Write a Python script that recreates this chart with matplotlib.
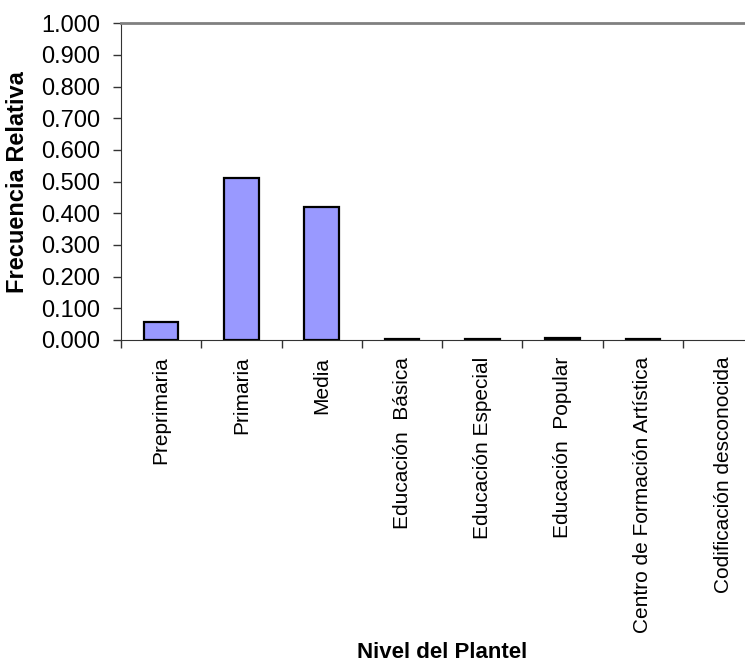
import numpy as np
import matplotlib.pyplot as plt

plt.rcParams['font.family'] = ['Liberation Sans', 'DejaVu Sans']

# Datos
categorias = ['Preprimaria', 'Primaria', 'Media', 'Educación  Básica',
              'Educación Especial', 'Educación  Popular',
              'Centro de Formación Artística', 'Codificación desconocida']
frecuencia = [0.058, 0.511, 0.420, 0.003, 0.003, 0.007, 0.003, 0.0]
yticks = [0.0, 0.1, 0.2, 0.3, 0.4, 0.5, 0.6, 0.7, 0.8, 0.9, 1.0]

fig = plt.figure(figsize=(7.45, 6.63), dpi=100)
ax = fig.add_axes([0.1624, 0.4872, 0.8623, 0.4777])

x = np.arange(len(categorias))
# sin borde para las barras de altura cero
bordes = [1.6 if v > 0 else 0 for v in frecuencia]
ax.bar(x, frecuencia, width=0.43, color='#9999FF', edgecolor='black', linewidth=bordes)

ax.set_xlim(-0.5, len(categorias) - 0.5)
ax.set_ylim(0, 1.0)
ax.set_yticks(yticks)
ax.set_yticklabels(['%.3f' % v for v in yticks], fontsize=17)

# ticks del eje x en los limites de cada categoria
ax.set_xticks(np.arange(len(categorias) + 1) - 0.5)
ax.set_xticklabels([])
ax.set_xticks(x, minor=True)
ax.set_xticklabels(categorias, minor=True, rotation=90, fontsize=15)
ax.tick_params(axis='x', which='minor', length=0, pad=12)
ax.tick_params(axis='x', which='major', length=6, width=1, color='#333333')
ax.tick_params(axis='y', length=6, width=1, pad=9, color='#333333')

ax.spines['right'].set_visible(False)
ax.spines['top'].set_color('#808080')
ax.spines['top'].set_linewidth(2)
ax.spines['left'].set_color('#333333')
ax.spines['bottom'].set_color('#333333')

ax.set_ylabel('Frecuencia Relativa', fontsize=17, fontweight='bold')
ax.yaxis.set_label_coords(-0.143, 0.5)
fig.text(0.593, 0.0, 'Nivel del Plantel', fontsize=16, fontweight='bold', ha='center', va='bottom')

plt.savefig('out.png', dpi=100)
